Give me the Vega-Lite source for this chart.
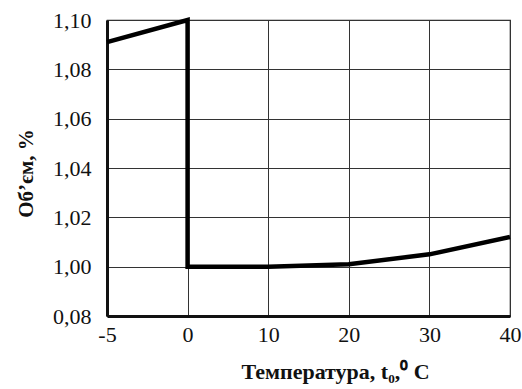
{
  "$schema": "https://vega.github.io/schema/vega-lite/v6.json",
  "width": 403,
  "height": 296,
  "autosize": {"type": "none"},
  "padding": {"left": 107, "top": 20, "right": 12, "bottom": 73},
  "background": "white",
  "config": {
    "font": "Liberation Serif",
    "view": {"stroke": "#222", "strokeWidth": 1.2},
    "axis": {
      "labelFont": "Liberation Serif",
      "titleFont": "Liberation Serif",
      "labelColor": "#111",
      "titleColor": "#111",
      "gridColor": "#333",
      "gridWidth": 1,
      "gridOpacity": 1,
      "domainColor": "#111",
      "domainWidth": 3,
      "ticks": false
    }
  },
  "data": {
    "values": [
      {"i": 1, "t": -5, "v": 1.091},
      {"i": 2, "t": 0, "v": 1.1},
      {"i": 3, "t": 0, "v": 1.0},
      {"i": 4, "t": 10, "v": 1.0},
      {"i": 5, "t": 20, "v": 1.001},
      {"i": 6, "t": 30, "v": 1.005},
      {"i": 7, "t": 40, "v": 1.012}
    ]
  },
  "mark": {"type": "line", "color": "#000", "strokeWidth": 4.5, "strokeJoin": "miter"},
  "encoding": {
    "x": {
      "field": "t",
      "type": "ordinal",
      "sort": [-5, 0, 10, 20, 30, 40],
      "scale": {"type": "point", "padding": 0},
      "axis": {
        "labelAngle": 0,
        "labelFontSize": 22,
        "labelPadding": 8,
        "grid": true,
        "title": "Температура, t₀,⁰ C",
        "titleFontSize": 22,
        "titleFontWeight": "bold",
        "titlePadding": 16,
        "titleX": 228
      }
    },
    "y": {
      "field": "v",
      "type": "quantitative",
      "scale": {"domain": [0.98, 1.1], "nice": false, "zero": false},
      "axis": {
        "values": [0.98, 1.0, 1.02, 1.04, 1.06, 1.08, 1.1],
        "labelExpr": "datum.value < 0.99 ? '0,08' : replace(format(datum.value, '.2f'), '.', ',')",
        "labelFontSize": 22,
        "labelPadding": 16,
        "grid": true,
        "title": "Об’єм, %",
        "titleFontSize": 21,
        "titleFontWeight": "bold",
        "titlePadding": 16,
        "titleY": 153
      }
    },
    "order": {"field": "i", "type": "quantitative"}
  }
}
